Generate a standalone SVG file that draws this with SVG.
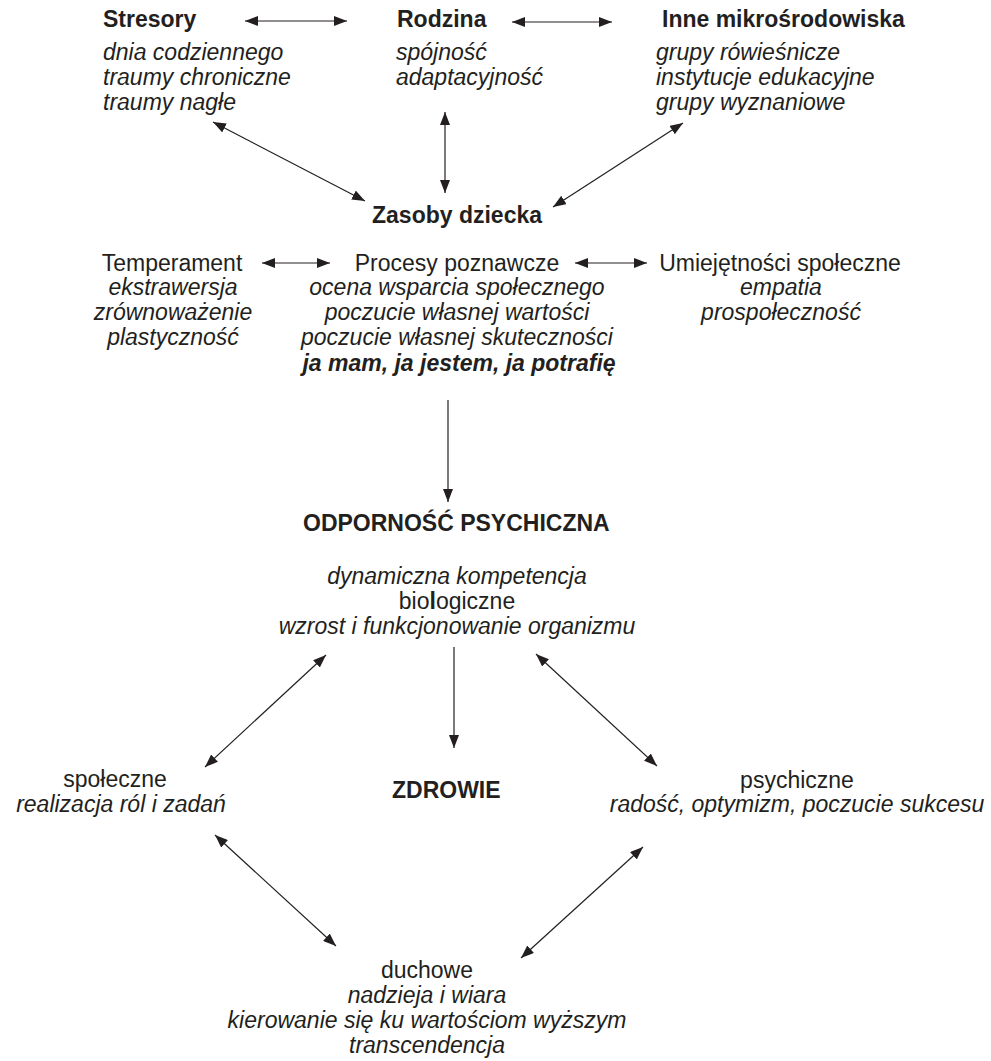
<svg xmlns="http://www.w3.org/2000/svg" width="991" height="1061" viewBox="0 0 991 1061">
<defs>
<style>
text{font-family:"Liberation Sans",Arial,sans-serif;font-size:23px;fill:#231f20}
.b{font-weight:bold}
.i{font-style:italic}
.bi{font-weight:bold;font-style:italic}
.c{text-anchor:middle}
.ln{stroke:#231f20;stroke-width:1.2;fill:none;marker-end:url(#ah)}
.bd{marker-start:url(#ah)}
</style>
<marker id="ah" markerUnits="userSpaceOnUse" markerWidth="13" markerHeight="10" refX="13" refY="5" orient="auto-start-reverse">
<path d="M0,0 L13,5 L0,10 z" fill="#231f20"/>
</marker>
</defs>
<rect width="991" height="1061" fill="#fff"/>
<g id="stresory">
<text class="b" x="103" y="27">Stresory</text>
<text class="i" x="103" y="60">dnia codziennego</text>
<text class="i" x="103" y="85">traumy chroniczne</text>
<text class="i" x="103" y="110">traumy nagłe</text>
</g>
<g id="rodzina">
<text class="b" x="397" y="27">Rodzina</text>
<text class="i" x="396" y="60">spójność</text>
<text class="i" x="396" y="85">adaptacyjność</text>
</g>
<g id="inne">
<text class="b" x="662" y="27">Inne mikrośrodowiska</text>
<text class="i" x="656" y="60">grupy rówieśnicze</text>
<text class="i" x="656" y="85">instytucje edukacyjne</text>
<text class="i" x="656" y="110">grupy wyznaniowe</text>
</g>
<g id="zasoby">
<text class="b" x="372" y="223">Zasoby dziecka</text>
</g>
<g id="temperament">
<text class="c" x="172" y="271">Temperament</text>
<text class="i c" x="173" y="295">ekstrawersja</text>
<text class="i c" x="173" y="320">zrównoważenie</text>
<text class="i c" x="173" y="345">plastyczność</text>
</g>
<g id="procesy">
<text class="c" x="457" y="271">Procesy poznawcze</text>
<text class="i c" x="457" y="295">ocena wsparcia społecznego</text>
<text class="i c" x="457" y="320">poczucie własnej wartości</text>
<text class="i c" x="457" y="345">poczucie własnej skuteczności</text>
<text class="bi c" x="459" y="371">ja mam, ja jestem, ja potrafię</text>
</g>
<g id="umiejetnosci">
<text class="c" x="780" y="271">Umiejętności społeczne</text>
<text class="i c" x="781" y="295">empatia</text>
<text class="i c" x="781" y="320">prospołeczność</text>
</g>
<g id="odpornosc">
<text class="b" x="303" y="531">ODPORNOŚĆ PSYCHICZNA</text>
<text class="i c" x="457" y="584">dynamiczna kompetencja</text>
<text class="c" x="457" y="609">bio<tspan class="b">l</tspan>ogiczne</text>
<text class="i c" x="457" y="634">wzrost i funkcjonowanie organizmu</text>
</g>
<g id="zdrowie">
<text class="b" x="392" y="798">ZDROWIE</text>
</g>
<g id="spoleczne">
<text class="c" x="115" y="787">społeczne</text>
<text class="i c" x="121" y="812">realizacja ról i zadań</text>
</g>
<g id="psychiczne">
<text class="c" x="797" y="788">psychiczne</text>
<text class="i c" x="797" y="812">radość, optymizm, poczucie sukcesu</text>
</g>
<g id="duchowe">
<text class="c" x="427" y="978">duchowe</text>
<text class="i c" x="427" y="1003">nadzieja i wiara</text>
<text class="i c" x="427" y="1028">kierowanie się ku wartościom wyższym</text>
<text class="i c" x="427" y="1053">transcendencja</text>
</g>
<g id="connectors">
<line class="ln bd" x1="245" y1="21" x2="347" y2="21"/>
<line class="ln bd" x1="512" y1="22" x2="612" y2="22"/>
<line class="ln bd" x1="213" y1="122" x2="365" y2="201"/>
<line class="ln bd" x1="445" y1="112" x2="445" y2="193"/>
<line class="ln bd" x1="683" y1="123" x2="553" y2="207"/>
<line class="ln bd" x1="262" y1="263" x2="330" y2="263"/>
<line class="ln bd" x1="575" y1="263" x2="647" y2="263"/>
<line class="ln" x1="448" y1="400" x2="448" y2="502"/>
<line class="ln" x1="454" y1="647" x2="454" y2="748"/>
<line class="ln bd" x1="326" y1="655" x2="205" y2="767"/>
<line class="ln bd" x1="536" y1="654" x2="657" y2="766"/>
<line class="ln bd" x1="215" y1="835" x2="336" y2="946"/>
<line class="ln bd" x1="643" y1="847" x2="521" y2="958"/>
</g>
</svg>
